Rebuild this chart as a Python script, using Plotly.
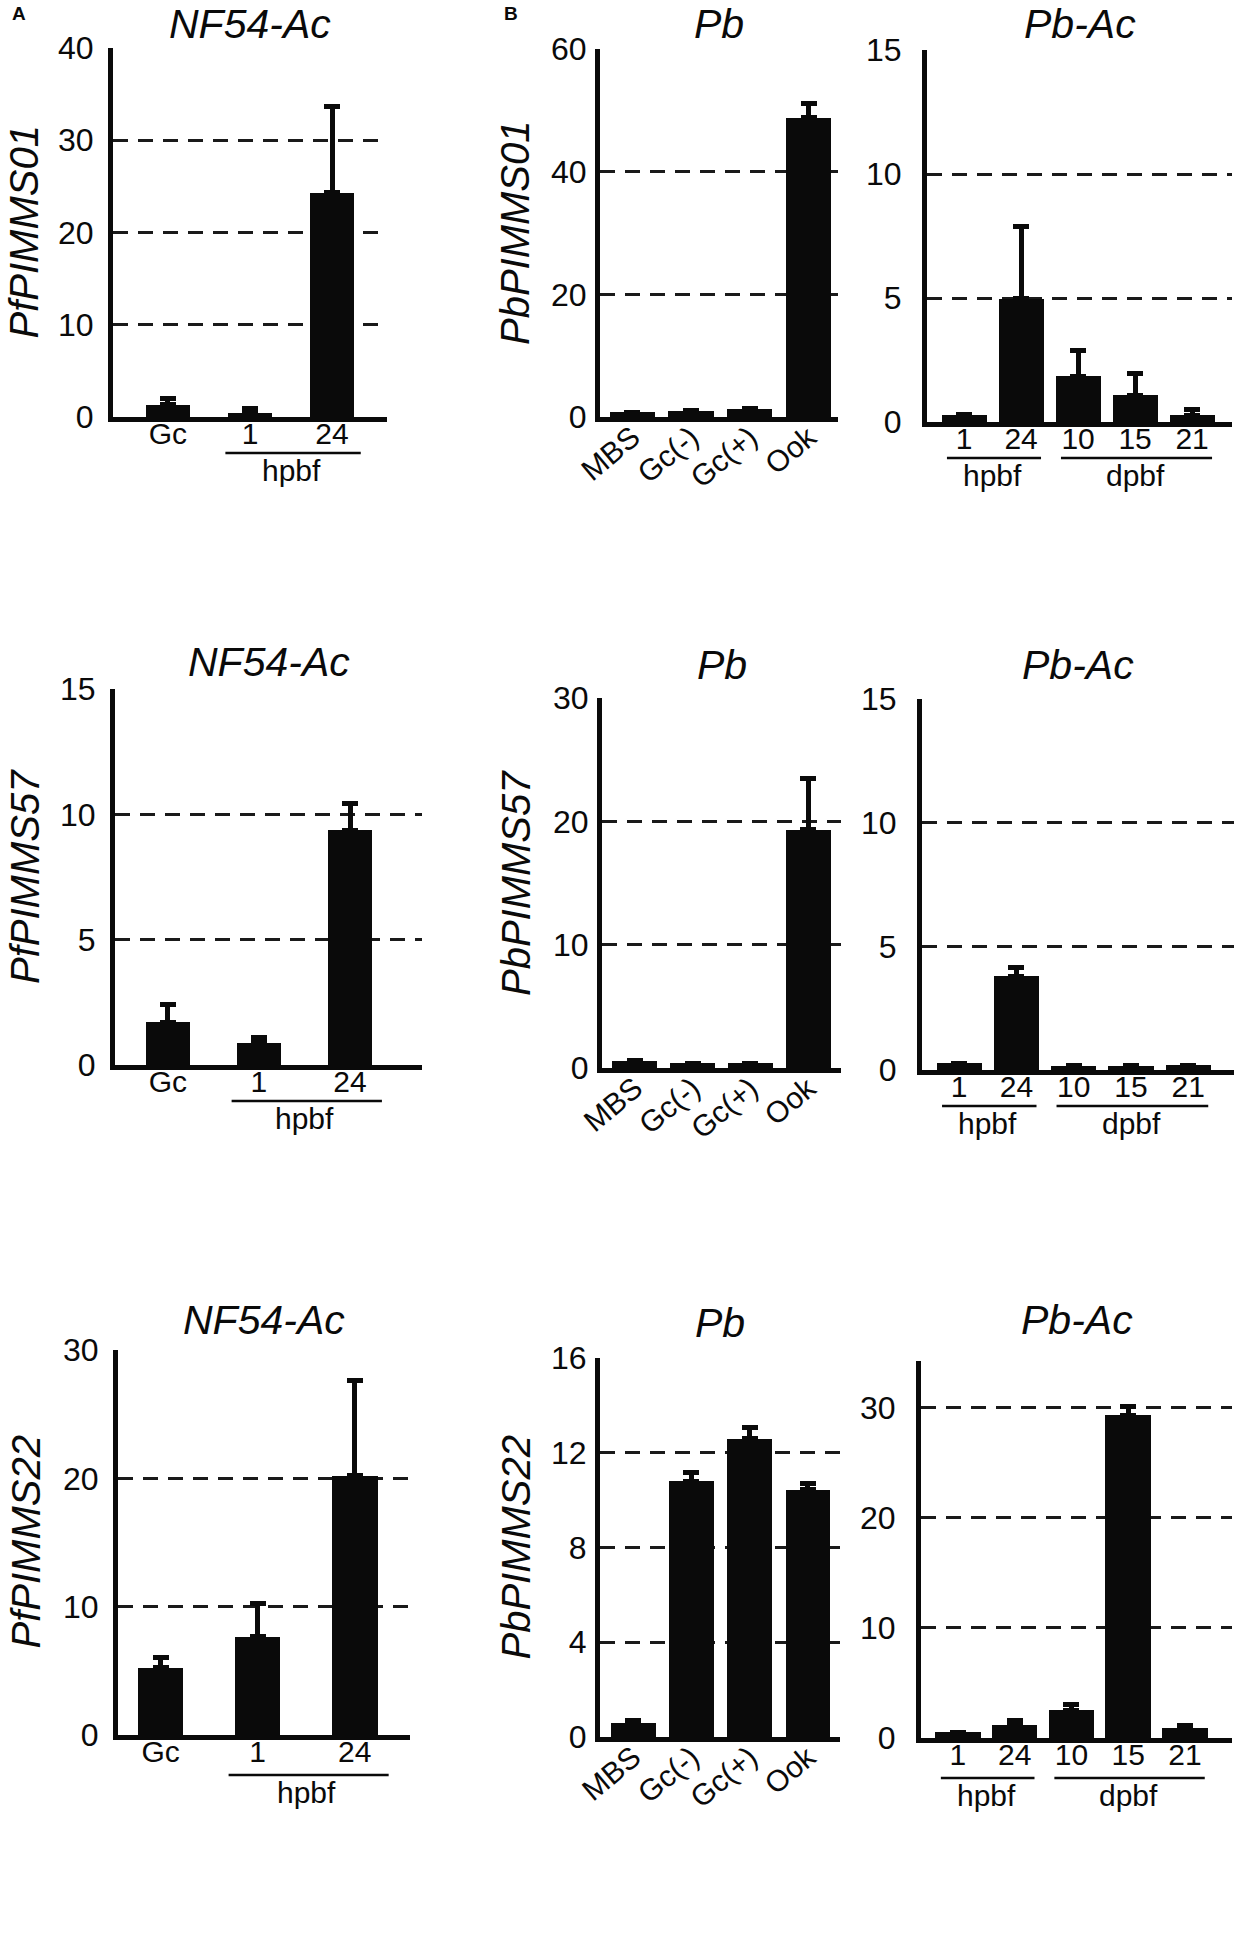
import plotly.graph_objects as go

# --- data ---
# NF54-Ac (P. falciparum)
pf_cats = ["Gc", "1", "24"]
pf_pimms01 = [1.34, 0.47, 24.3]
pf_pimms01_err = [0.66, 0.5, 9.4]
pf_pimms57 = [1.7, 0.89, 9.36]
pf_pimms57_err = [0.72, 0.21, 1.07]
pf_pimms22 = [5.25, 7.66, 20.2]
pf_pimms22_err = [0.78, 2.6, 7.4]
pf_groups = [("hpbf", 1, 2)]

# Pb (P. berghei)
pb_cats = ["MBS", "Gc(-)", "Gc(+)", "Ook"]
pb_pimms01 = [0.8, 1.0, 1.35, 48.8]
pb_pimms01_err = [None, None, None, 2.3]
pb_pimms57 = [0.6, 0.4, 0.4, 19.3]
pb_pimms57_err = [None, None, None, 4.2]
pb_pimms22 = [0.6, 10.8, 12.6, 10.44]
pb_pimms22_err = [0.08, 0.35, 0.45, 0.28]

# Pb-Ac
pbac_cats = ["1", "24", "10", "15", "21"]
pbac_pimms01 = [0.3, 4.98, 1.84, 1.08, 0.27]
pbac_pimms01_err = [None, 2.92, 1.06, 0.87, 0.23]
pbac_pimms57 = [0.27, 3.8, 0.18, 0.18, 0.2]
pbac_pimms57_err = [None, 0.34, None, None, None]
pbac_pimms22 = [0.5, 1.2, 2.5, 29.3, 0.9]
pbac_pimms22_err = [None, 0.4, 0.57, 0.8, 0.2]
pbac_groups = [("hpbf", 0, 1), ("dpbf", 2, 4)]

W, H = 1234, 1935
BLACK = "#0a0a0a"
FONT = "Liberation Sans, Arial, sans-serif"

# box = (left, right, top, bottom) in pixels
panels = [
    dict(cats=pf_cats, y=pf_pimms01, err=pf_pimms01_err, title="NF54-Ac", ytitle="PfPIMMS01",
         yticks=[0, 10, 20, 30, 40], box=(113, 387, 48, 417), xr=(-0.67, 2.67), bw=0.54,
         groups=pf_groups, ylab_x=24, title_y=24, rot=False, gap=36, ysoff=8),
    dict(cats=pb_cats, y=pb_pimms01, err=pb_pimms01_err, title="Pb", ytitle="PbPIMMS01",
         yticks=[0, 20, 40, 60], box=(600, 838, 49, 417), xr=(-0.55, 3.5), bw=0.77,
         groups=[], ylab_x=515, title_y=24, rot=True, gap=36, ysoff=2),
    dict(cats=pbac_cats, y=pbac_pimms01, err=pbac_pimms01_err, title="Pb-Ac", ytitle=None,
         yticks=[0, 5, 10, 15], box=(927, 1232, 50, 422), xr=(-0.65, 4.7), bw=0.79,
         groups=pbac_groups, ylab_x=None, title_y=24, rot=False, gap=36, ysoff=14),
    dict(cats=pf_cats, y=pf_pimms57, err=pf_pimms57_err, title="NF54-Ac", ytitle="PfPIMMS57",
         yticks=[0, 5, 10, 15], box=(115, 422, 689, 1065), xr=(-0.58, 2.79), bw=0.49,
         groups=pf_groups, ylab_x=25, title_y=662, rot=False, gap=36, ysoff=8),
    dict(cats=pb_cats, y=pb_pimms57, err=pb_pimms57_err, title="Pb", ytitle="PbPIMMS57",
         yticks=[0, 10, 20, 30], box=(602, 841, 698, 1068), xr=(-0.57, 3.57), bw=0.78,
         groups=[], ylab_x=516, title_y=665, rot=True, gap=36, ysoff=2),
    dict(cats=pbac_cats, y=pbac_pimms57, err=pbac_pimms57_err, title="Pb-Ac", ytitle=None,
         yticks=[0, 5, 10, 15], box=(922, 1234, 699, 1070), xr=(-0.65, 4.8), bw=0.79,
         groups=pbac_groups, ylab_x=None, title_y=665, rot=False, gap=36, ysoff=14),
    dict(cats=pf_cats, y=pf_pimms22, err=pf_pimms22_err, title="NF54-Ac", ytitle="PfPIMMS22",
         yticks=[0, 10, 20, 30], box=(118, 410, 1350, 1735), xr=(-0.44, 2.57), bw=0.47,
         groups=pf_groups, ylab_x=25, title_y=1320, rot=False, gap=40, ysoff=8),
    dict(cats=pb_cats, y=pb_pimms22, err=pb_pimms22_err, title="Pb", ytitle="PbPIMMS22",
         yticks=[0, 4, 8, 12, 16], box=(600, 840, 1358, 1737), xr=(-0.57, 3.55), bw=0.77,
         groups=[], ylab_x=515, title_y=1323, rot=True, gap=40, ysoff=2),
    dict(cats=pbac_cats, y=pbac_pimms22, err=pbac_pimms22_err, title="Pb-Ac", ytitle=None,
         yticks=[0, 10, 20, 30, 34.2], box=(921, 1232, 1361, 1738), xr=(-0.65, 4.83), bw=0.8,
         groups=pbac_groups, ylab_x=None, title_y=1320, rot=False, gap=40, ysoff=14),
]

fig = go.Figure()
annotations = []
shapes = []

for i, p in enumerate(panels, start=1):
    xa = "x" if i == 1 else f"x{i}"
    ya = "y" if i == 1 else f"y{i}"
    x0, x1, y0, y1 = p["box"]
    fig.add_trace(go.Bar(
        x=p["cats"], y=p["y"], width=p["bw"], marker_color=BLACK, marker_line_width=0,
        error_y=dict(type="data", symmetric=False, array=p["err"],
                     arrayminus=[0] * len(p["cats"]), color=BLACK, thickness=5, width=8),
        xaxis=xa, yaxis=ya, showlegend=False,
    ))
    ticktext = [str(v) for v in p["yticks"]]
    if i == 9:
        ticktext[-1] = ""
    fig.layout[f"xaxis{i}"] = dict(
        domain=[x0 / W, x1 / W], range=list(p["xr"]), type="category", anchor=ya,
        automargin=False,
        showline=True, linewidth=5, linecolor=BLACK, showgrid=False, zeroline=False,
        ticks="", tickangle=-40 if p["rot"] else 0, ticklabelstandoff=-14,
        tickfont=dict(size=30, color=BLACK, family=FONT),
    )
    fig.layout[f"yaxis{i}"] = dict(
        domain=[1 - y1 / H, 1 - y0 / H], range=[0, p["yticks"][-1]], anchor=xa,
        automargin=False, tickvals=p["yticks"], ticktext=ticktext,
        showline=True, linewidth=5, linecolor=BLACK, zeroline=False,
        showgrid=True, gridcolor="#1a1a1a", gridwidth=2.5, griddash="15px,10px",
        ticks="", ticklabelstandoff=p["ysoff"],
        tickfont=dict(size=32, color=BLACK, family=FONT),
    )
    # panel title
    annotations.append(dict(
        text=f"<i>{p['title']}</i>", x=(x0 + x1) / 2 / W, y=1 - p["title_y"] / H,
        xref="paper", yref="paper", xanchor="center", yanchor="middle", showarrow=False,
        font=dict(size=41, color=BLACK, family=FONT),
    ))
    # y axis title
    if p["ytitle"]:
        annotations.append(dict(
            text=f"<i>{p['ytitle']}</i>", x=p["ylab_x"] / W, y=1 - (y0 + y1) / 2 / H,
            xref="paper", yref="paper", xanchor="center", yanchor="middle",
            textangle=-90, showarrow=False, font=dict(size=40, color=BLACK, family=FONT),
        ))
    # group brackets under the category labels
    for label, a, b in p["groups"]:
        ly = 1 - (y1 + p["gap"]) / H
        shapes.append(dict(type="line", xref=xa, yref="paper", x0=a - 0.3, x1=b + 0.35,
                           y0=ly, y1=ly, line=dict(color=BLACK, width=2.5)))
        annotations.append(dict(
            text=label, x=(a + b) / 2 + 0.001, y=1 - (y1 + p["gap"] + 17) / H,
            xref=xa, yref="paper", xanchor="center", yanchor="middle", showarrow=False,
            font=dict(size=30, color=BLACK, family=FONT),
        ))

# panel letters
for letter, lx in [("A", 19), ("B", 511)]:
    annotations.append(dict(
        text=f"<b>{letter}</b>", x=lx / W, y=1 - 14 / H, xref="paper", yref="paper",
        xanchor="center", yanchor="middle", showarrow=False,
        font=dict(size=19, color=BLACK, family=FONT),
    ))

fig.update_layout(
    template="none",
    width=W, height=H, margin=dict(l=0, r=0, t=0, b=0, autoexpand=False),
    paper_bgcolor="white", plot_bgcolor="white",
    annotations=annotations, shapes=shapes, bargap=0,
    font=dict(family=FONT, color=BLACK),
)

# drop the browser's default 8px body margin so the figure sits at the page corner
fig.write_html("out.html", config={"displayModeBar": False},
               post_script="document.body.style.margin='0';")
